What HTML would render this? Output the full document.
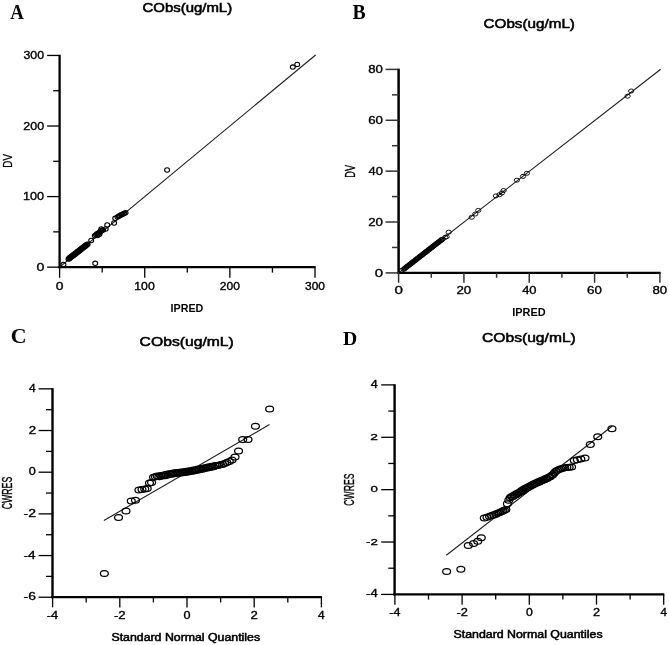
<!DOCTYPE html>
<html><head><meta charset="utf-8"><title>Goodness-of-fit plots</title>
<style>html,body{margin:0;padding:0;background:#fff;}svg{display:block;filter:grayscale(1);}text{fill:#000;}</style></head>
<body><svg width="669" height="645" viewBox="0 0 669 645">
<rect width="669" height="645" fill="#fff"/>
<g stroke-linecap="butt">
<line x1="59.60" y1="54.80" x2="59.60" y2="268.30" stroke="#000" stroke-width="2.3"/>
<line x1="58.45" y1="267.15" x2="315.65" y2="267.15" stroke="#000" stroke-width="2.3"/>
<line x1="47.10" y1="267.15" x2="59.60" y2="267.15" stroke="#000" stroke-width="1.3"/>
<line x1="59.60" y1="267.15" x2="59.60" y2="277.70" stroke="#000" stroke-width="1.3"/>
<line x1="47.10" y1="196.58" x2="59.60" y2="196.58" stroke="#000" stroke-width="1.3"/>
<line x1="144.73" y1="267.15" x2="144.73" y2="277.70" stroke="#000" stroke-width="1.3"/>
<line x1="47.10" y1="126.02" x2="59.60" y2="126.02" stroke="#000" stroke-width="1.3"/>
<line x1="229.87" y1="267.15" x2="229.87" y2="277.70" stroke="#000" stroke-width="1.3"/>
<line x1="47.10" y1="55.45" x2="59.60" y2="55.45" stroke="#000" stroke-width="1.3"/>
<line x1="315.00" y1="267.15" x2="315.00" y2="277.70" stroke="#000" stroke-width="1.3"/>
<line x1="53.20" y1="231.87" x2="59.60" y2="231.87" stroke="#000" stroke-width="1.3"/>
<line x1="102.17" y1="267.15" x2="102.17" y2="272.60" stroke="#000" stroke-width="1.3"/>
<line x1="53.20" y1="161.30" x2="59.60" y2="161.30" stroke="#000" stroke-width="1.3"/>
<line x1="187.30" y1="267.15" x2="187.30" y2="272.60" stroke="#000" stroke-width="1.3"/>
<line x1="53.20" y1="90.73" x2="59.60" y2="90.73" stroke="#000" stroke-width="1.3"/>
<line x1="272.43" y1="267.15" x2="272.43" y2="272.60" stroke="#000" stroke-width="1.3"/>
<line x1="59.60" y1="267.15" x2="315.60" y2="55.00" stroke="#1c1c1c" stroke-width="1.1"/>
<line x1="398.60" y1="68.65" x2="398.60" y2="274.05" stroke="#000" stroke-width="2.5"/>
<line x1="397.35" y1="272.90" x2="660.65" y2="272.90" stroke="#000" stroke-width="2.2"/>
<line x1="385.60" y1="272.90" x2="398.60" y2="272.90" stroke="#333" stroke-width="1.5"/>
<line x1="398.60" y1="272.90" x2="398.60" y2="282.80" stroke="#333" stroke-width="1.5"/>
<line x1="385.60" y1="222.02" x2="398.60" y2="222.02" stroke="#333" stroke-width="1.5"/>
<line x1="463.93" y1="272.90" x2="463.93" y2="282.80" stroke="#333" stroke-width="1.5"/>
<line x1="385.60" y1="171.15" x2="398.60" y2="171.15" stroke="#333" stroke-width="1.5"/>
<line x1="529.25" y1="272.90" x2="529.25" y2="282.80" stroke="#333" stroke-width="1.5"/>
<line x1="385.60" y1="120.27" x2="398.60" y2="120.27" stroke="#333" stroke-width="1.5"/>
<line x1="594.58" y1="272.90" x2="594.58" y2="282.80" stroke="#333" stroke-width="1.5"/>
<line x1="385.60" y1="69.40" x2="398.60" y2="69.40" stroke="#333" stroke-width="1.5"/>
<line x1="659.90" y1="272.90" x2="659.90" y2="282.80" stroke="#333" stroke-width="1.5"/>
<line x1="392.00" y1="247.46" x2="398.60" y2="247.46" stroke="#333" stroke-width="1.5"/>
<line x1="431.26" y1="272.90" x2="431.26" y2="277.80" stroke="#333" stroke-width="1.5"/>
<line x1="392.00" y1="196.59" x2="398.60" y2="196.59" stroke="#333" stroke-width="1.5"/>
<line x1="496.59" y1="272.90" x2="496.59" y2="277.80" stroke="#333" stroke-width="1.5"/>
<line x1="392.00" y1="145.71" x2="398.60" y2="145.71" stroke="#333" stroke-width="1.5"/>
<line x1="561.91" y1="272.90" x2="561.91" y2="277.80" stroke="#333" stroke-width="1.5"/>
<line x1="392.00" y1="94.84" x2="398.60" y2="94.84" stroke="#333" stroke-width="1.5"/>
<line x1="627.24" y1="272.90" x2="627.24" y2="277.80" stroke="#333" stroke-width="1.5"/>
<line x1="398.60" y1="272.90" x2="660.70" y2="69.30" stroke="#1c1c1c" stroke-width="1.1"/>
<line x1="52.50" y1="388.19" x2="52.50" y2="598.25" stroke="#000" stroke-width="2.4"/>
<line x1="51.30" y1="597.10" x2="322.05" y2="597.10" stroke="#000" stroke-width="2.3"/>
<line x1="38.60" y1="597.24" x2="52.50" y2="597.24" stroke="#000" stroke-width="1.3"/>
<line x1="38.60" y1="555.56" x2="52.50" y2="555.56" stroke="#000" stroke-width="1.3"/>
<line x1="38.60" y1="513.88" x2="52.50" y2="513.88" stroke="#000" stroke-width="1.3"/>
<line x1="38.60" y1="472.20" x2="52.50" y2="472.20" stroke="#000" stroke-width="1.3"/>
<line x1="38.60" y1="430.52" x2="52.50" y2="430.52" stroke="#000" stroke-width="1.3"/>
<line x1="38.60" y1="388.84" x2="52.50" y2="388.84" stroke="#000" stroke-width="1.3"/>
<line x1="46.00" y1="576.40" x2="52.50" y2="576.40" stroke="#000" stroke-width="1.3"/>
<line x1="46.00" y1="534.72" x2="52.50" y2="534.72" stroke="#000" stroke-width="1.3"/>
<line x1="46.00" y1="493.04" x2="52.50" y2="493.04" stroke="#000" stroke-width="1.3"/>
<line x1="46.00" y1="451.36" x2="52.50" y2="451.36" stroke="#000" stroke-width="1.3"/>
<line x1="46.00" y1="409.68" x2="52.50" y2="409.68" stroke="#000" stroke-width="1.3"/>
<line x1="52.60" y1="597.10" x2="52.60" y2="607.40" stroke="#000" stroke-width="1.3"/>
<line x1="119.80" y1="597.10" x2="119.80" y2="607.40" stroke="#000" stroke-width="1.3"/>
<line x1="187.00" y1="597.10" x2="187.00" y2="607.40" stroke="#000" stroke-width="1.3"/>
<line x1="254.20" y1="597.10" x2="254.20" y2="607.40" stroke="#000" stroke-width="1.3"/>
<line x1="321.40" y1="597.10" x2="321.40" y2="607.40" stroke="#000" stroke-width="1.3"/>
<line x1="86.20" y1="597.10" x2="86.20" y2="602.40" stroke="#000" stroke-width="1.3"/>
<line x1="153.40" y1="597.10" x2="153.40" y2="602.40" stroke="#000" stroke-width="1.3"/>
<line x1="220.60" y1="597.10" x2="220.60" y2="602.40" stroke="#000" stroke-width="1.3"/>
<line x1="287.80" y1="597.10" x2="287.80" y2="602.40" stroke="#000" stroke-width="1.3"/>
<line x1="103.90" y1="520.50" x2="269.50" y2="424.60" stroke="#1c1c1c" stroke-width="1.1"/>
<line x1="394.60" y1="384.24" x2="394.60" y2="595.55" stroke="#000" stroke-width="2.4"/>
<line x1="393.40" y1="594.40" x2="664.35" y2="594.40" stroke="#000" stroke-width="2.3"/>
<line x1="381.20" y1="594.41" x2="394.60" y2="594.41" stroke="#000" stroke-width="1.3"/>
<line x1="394.90" y1="594.40" x2="394.90" y2="604.70" stroke="#000" stroke-width="1.3"/>
<line x1="381.20" y1="542.03" x2="394.60" y2="542.03" stroke="#000" stroke-width="1.3"/>
<line x1="462.10" y1="594.40" x2="462.10" y2="604.70" stroke="#000" stroke-width="1.3"/>
<line x1="381.20" y1="489.65" x2="394.60" y2="489.65" stroke="#000" stroke-width="1.3"/>
<line x1="529.30" y1="594.40" x2="529.30" y2="604.70" stroke="#000" stroke-width="1.3"/>
<line x1="381.20" y1="437.27" x2="394.60" y2="437.27" stroke="#000" stroke-width="1.3"/>
<line x1="596.50" y1="594.40" x2="596.50" y2="604.70" stroke="#000" stroke-width="1.3"/>
<line x1="381.20" y1="384.89" x2="394.60" y2="384.89" stroke="#000" stroke-width="1.3"/>
<line x1="663.70" y1="594.40" x2="663.70" y2="604.70" stroke="#000" stroke-width="1.3"/>
<line x1="388.30" y1="568.22" x2="394.60" y2="568.22" stroke="#000" stroke-width="1.3"/>
<line x1="428.50" y1="594.40" x2="428.50" y2="599.60" stroke="#000" stroke-width="1.3"/>
<line x1="388.30" y1="515.84" x2="394.60" y2="515.84" stroke="#000" stroke-width="1.3"/>
<line x1="495.70" y1="594.40" x2="495.70" y2="599.60" stroke="#000" stroke-width="1.3"/>
<line x1="388.30" y1="463.46" x2="394.60" y2="463.46" stroke="#000" stroke-width="1.3"/>
<line x1="562.90" y1="594.40" x2="562.90" y2="599.60" stroke="#000" stroke-width="1.3"/>
<line x1="388.30" y1="411.08" x2="394.60" y2="411.08" stroke="#000" stroke-width="1.3"/>
<line x1="630.10" y1="594.40" x2="630.10" y2="599.60" stroke="#000" stroke-width="1.3"/>
<line x1="446.30" y1="555.30" x2="612.00" y2="426.30" stroke="#1c1c1c" stroke-width="1.1"/>
</g>
<g fill="none" stroke="#000">
<ellipse cx="63.40" cy="264.60" rx="2.45" ry="2.2" stroke-width="1.1"/>
<ellipse cx="95.20" cy="263.30" rx="2.45" ry="2.2" stroke-width="1.1"/>
<ellipse cx="91.20" cy="240.50" rx="2.45" ry="2.2" stroke-width="1.1"/>
<ellipse cx="94.80" cy="235.80" rx="2.45" ry="2.2" stroke-width="1.1"/>
<ellipse cx="96.00" cy="234.80" rx="2.45" ry="2.2" stroke-width="1.1"/>
<ellipse cx="97.20" cy="233.80" rx="2.45" ry="2.2" stroke-width="1.1"/>
<ellipse cx="98.50" cy="233.00" rx="2.45" ry="2.2" stroke-width="1.1"/>
<ellipse cx="99.80" cy="232.20" rx="2.45" ry="2.2" stroke-width="1.1"/>
<ellipse cx="100.60" cy="231.20" rx="2.45" ry="2.2" stroke-width="1.1"/>
<ellipse cx="102.00" cy="230.30" rx="2.45" ry="2.2" stroke-width="1.1"/>
<ellipse cx="101.30" cy="229.00" rx="2.45" ry="2.2" stroke-width="1.1"/>
<ellipse cx="103.00" cy="230.00" rx="2.45" ry="2.2" stroke-width="1.1"/>
<ellipse cx="97.50" cy="235.50" rx="2.45" ry="2.2" stroke-width="1.1"/>
<ellipse cx="99.50" cy="234.20" rx="2.45" ry="2.2" stroke-width="1.1"/>
<ellipse cx="105.70" cy="229.00" rx="2.45" ry="2.2" stroke-width="1.1"/>
<ellipse cx="107.20" cy="225.00" rx="2.45" ry="2.2" stroke-width="1.1"/>
<ellipse cx="114.10" cy="223.00" rx="2.45" ry="2.2" stroke-width="1.1"/>
<ellipse cx="115.20" cy="218.30" rx="2.45" ry="2.2" stroke-width="1.1"/>
<ellipse cx="117.50" cy="217.00" rx="2.45" ry="2.2" stroke-width="1.1"/>
<ellipse cx="118.80" cy="216.30" rx="2.45" ry="2.2" stroke-width="1.1"/>
<ellipse cx="120.00" cy="215.60" rx="2.45" ry="2.2" stroke-width="1.1"/>
<ellipse cx="121.30" cy="214.80" rx="2.45" ry="2.2" stroke-width="1.1"/>
<ellipse cx="122.60" cy="214.20" rx="2.45" ry="2.2" stroke-width="1.1"/>
<ellipse cx="124.00" cy="213.60" rx="2.45" ry="2.2" stroke-width="1.1"/>
<ellipse cx="125.50" cy="212.80" rx="2.45" ry="2.2" stroke-width="1.1"/>
<ellipse cx="167.10" cy="170.00" rx="2.45" ry="2.2" stroke-width="1.1"/>
<ellipse cx="292.80" cy="67.10" rx="2.45" ry="2.2" stroke-width="1.1"/>
<ellipse cx="297.20" cy="64.40" rx="2.45" ry="2.2" stroke-width="1.1"/>
<ellipse cx="68.50" cy="259.00" rx="2.45" ry="2.2" stroke-width="1.1"/>
<ellipse cx="69.23" cy="258.76" rx="2.45" ry="2.2" stroke-width="1.1"/>
<ellipse cx="69.44" cy="257.82" rx="2.45" ry="2.2" stroke-width="1.1"/>
<ellipse cx="70.35" cy="257.82" rx="2.45" ry="2.2" stroke-width="1.1"/>
<ellipse cx="70.85" cy="257.27" rx="2.45" ry="2.2" stroke-width="1.1"/>
<ellipse cx="71.19" cy="256.51" rx="2.45" ry="2.2" stroke-width="1.1"/>
<ellipse cx="72.15" cy="256.57" rx="2.45" ry="2.2" stroke-width="1.1"/>
<ellipse cx="72.45" cy="255.75" rx="2.45" ry="2.2" stroke-width="1.1"/>
<ellipse cx="73.01" cy="255.29" rx="2.45" ry="2.2" stroke-width="1.1"/>
<ellipse cx="73.88" cy="255.23" rx="2.45" ry="2.2" stroke-width="1.1"/>
<ellipse cx="74.08" cy="254.28" rx="2.45" ry="2.2" stroke-width="1.1"/>
<ellipse cx="74.87" cy="254.11" rx="2.45" ry="2.2" stroke-width="1.1"/>
<ellipse cx="75.54" cy="253.79" rx="2.45" ry="2.2" stroke-width="1.1"/>
<ellipse cx="75.78" cy="252.89" rx="2.45" ry="2.2" stroke-width="1.1"/>
<ellipse cx="76.71" cy="252.92" rx="2.45" ry="2.2" stroke-width="1.1"/>
<ellipse cx="77.15" cy="252.29" rx="2.45" ry="2.2" stroke-width="1.1"/>
<ellipse cx="77.55" cy="251.61" rx="2.45" ry="2.2" stroke-width="1.1"/>
<ellipse cx="78.49" cy="251.65" rx="2.45" ry="2.2" stroke-width="1.1"/>
<ellipse cx="78.75" cy="250.78" rx="2.45" ry="2.2" stroke-width="1.1"/>
<ellipse cx="79.38" cy="250.40" rx="2.45" ry="2.2" stroke-width="1.1"/>
<ellipse cx="80.20" cy="250.28" rx="2.45" ry="2.2" stroke-width="1.1"/>
<ellipse cx="80.40" cy="249.32" rx="2.45" ry="2.2" stroke-width="1.1"/>
<ellipse cx="81.24" cy="249.23" rx="2.45" ry="2.2" stroke-width="1.1"/>
<ellipse cx="81.84" cy="248.82" rx="2.45" ry="2.2" stroke-width="1.1"/>
<ellipse cx="82.11" cy="247.96" rx="2.45" ry="2.2" stroke-width="1.1"/>
<ellipse cx="83.06" cy="248.02" rx="2.45" ry="2.2" stroke-width="1.1"/>
<ellipse cx="83.45" cy="247.31" rx="2.45" ry="2.2" stroke-width="1.1"/>
<ellipse cx="83.91" cy="246.70" rx="2.45" ry="2.2" stroke-width="1.1"/>
<ellipse cx="84.83" cy="246.72" rx="2.45" ry="2.2" stroke-width="1.1"/>
<ellipse cx="85.06" cy="245.81" rx="2.45" ry="2.2" stroke-width="1.1"/>
<ellipse cx="85.75" cy="245.51" rx="2.45" ry="2.2" stroke-width="1.1"/>
<ellipse cx="86.52" cy="245.33" rx="2.45" ry="2.2" stroke-width="1.1"/>
<ellipse cx="86.72" cy="244.38" rx="2.45" ry="2.2" stroke-width="1.1"/>
<ellipse cx="87.60" cy="244.33" rx="2.45" ry="2.2" stroke-width="1.1"/>
<ellipse cx="403.60" cy="269.31" rx="2.65" ry="2.0" stroke-width="0.9"/>
<ellipse cx="404.47" cy="268.96" rx="2.65" ry="2.0" stroke-width="0.9"/>
<ellipse cx="404.86" cy="268.00" rx="2.65" ry="2.0" stroke-width="0.9"/>
<ellipse cx="405.73" cy="267.66" rx="2.65" ry="2.0" stroke-width="0.9"/>
<ellipse cx="406.59" cy="267.31" rx="2.65" ry="2.0" stroke-width="0.9"/>
<ellipse cx="406.98" cy="266.35" rx="2.65" ry="2.0" stroke-width="0.9"/>
<ellipse cx="407.86" cy="266.01" rx="2.65" ry="2.0" stroke-width="0.9"/>
<ellipse cx="408.72" cy="265.65" rx="2.65" ry="2.0" stroke-width="0.9"/>
<ellipse cx="409.11" cy="264.69" rx="2.65" ry="2.0" stroke-width="0.9"/>
<ellipse cx="409.99" cy="264.36" rx="2.65" ry="2.0" stroke-width="0.9"/>
<ellipse cx="410.84" cy="263.99" rx="2.65" ry="2.0" stroke-width="0.9"/>
<ellipse cx="411.24" cy="263.03" rx="2.65" ry="2.0" stroke-width="0.9"/>
<ellipse cx="412.12" cy="262.71" rx="2.65" ry="2.0" stroke-width="0.9"/>
<ellipse cx="412.97" cy="262.34" rx="2.65" ry="2.0" stroke-width="0.9"/>
<ellipse cx="413.36" cy="261.38" rx="2.65" ry="2.0" stroke-width="0.9"/>
<ellipse cx="414.25" cy="261.06" rx="2.65" ry="2.0" stroke-width="0.9"/>
<ellipse cx="415.10" cy="260.68" rx="2.65" ry="2.0" stroke-width="0.9"/>
<ellipse cx="415.49" cy="259.72" rx="2.65" ry="2.0" stroke-width="0.9"/>
<ellipse cx="416.38" cy="259.41" rx="2.65" ry="2.0" stroke-width="0.9"/>
<ellipse cx="417.22" cy="259.02" rx="2.65" ry="2.0" stroke-width="0.9"/>
<ellipse cx="417.61" cy="258.06" rx="2.65" ry="2.0" stroke-width="0.9"/>
<ellipse cx="418.51" cy="257.76" rx="2.65" ry="2.0" stroke-width="0.9"/>
<ellipse cx="419.35" cy="257.37" rx="2.65" ry="2.0" stroke-width="0.9"/>
<ellipse cx="419.74" cy="256.41" rx="2.65" ry="2.0" stroke-width="0.9"/>
<ellipse cx="420.64" cy="256.11" rx="2.65" ry="2.0" stroke-width="0.9"/>
<ellipse cx="421.47" cy="255.71" rx="2.65" ry="2.0" stroke-width="0.9"/>
<ellipse cx="421.87" cy="254.75" rx="2.65" ry="2.0" stroke-width="0.9"/>
<ellipse cx="422.77" cy="254.46" rx="2.65" ry="2.0" stroke-width="0.9"/>
<ellipse cx="423.60" cy="254.05" rx="2.65" ry="2.0" stroke-width="0.9"/>
<ellipse cx="423.99" cy="253.10" rx="2.65" ry="2.0" stroke-width="0.9"/>
<ellipse cx="424.90" cy="252.81" rx="2.65" ry="2.0" stroke-width="0.9"/>
<ellipse cx="425.72" cy="252.40" rx="2.65" ry="2.0" stroke-width="0.9"/>
<ellipse cx="426.12" cy="251.44" rx="2.65" ry="2.0" stroke-width="0.9"/>
<ellipse cx="427.03" cy="251.15" rx="2.65" ry="2.0" stroke-width="0.9"/>
<ellipse cx="427.85" cy="250.74" rx="2.65" ry="2.0" stroke-width="0.9"/>
<ellipse cx="428.24" cy="249.78" rx="2.65" ry="2.0" stroke-width="0.9"/>
<ellipse cx="429.16" cy="249.50" rx="2.65" ry="2.0" stroke-width="0.9"/>
<ellipse cx="429.97" cy="249.08" rx="2.65" ry="2.0" stroke-width="0.9"/>
<ellipse cx="430.37" cy="248.13" rx="2.65" ry="2.0" stroke-width="0.9"/>
<ellipse cx="431.29" cy="247.85" rx="2.65" ry="2.0" stroke-width="0.9"/>
<ellipse cx="432.10" cy="247.42" rx="2.65" ry="2.0" stroke-width="0.9"/>
<ellipse cx="432.50" cy="246.47" rx="2.65" ry="2.0" stroke-width="0.9"/>
<ellipse cx="433.42" cy="246.20" rx="2.65" ry="2.0" stroke-width="0.9"/>
<ellipse cx="434.22" cy="245.77" rx="2.65" ry="2.0" stroke-width="0.9"/>
<ellipse cx="434.62" cy="244.82" rx="2.65" ry="2.0" stroke-width="0.9"/>
<ellipse cx="435.55" cy="244.55" rx="2.65" ry="2.0" stroke-width="0.9"/>
<ellipse cx="436.35" cy="244.11" rx="2.65" ry="2.0" stroke-width="0.9"/>
<ellipse cx="436.75" cy="243.16" rx="2.65" ry="2.0" stroke-width="0.9"/>
<ellipse cx="437.69" cy="242.90" rx="2.65" ry="2.0" stroke-width="0.9"/>
<ellipse cx="438.47" cy="242.45" rx="2.65" ry="2.0" stroke-width="0.9"/>
<ellipse cx="438.88" cy="241.51" rx="2.65" ry="2.0" stroke-width="0.9"/>
<ellipse cx="439.82" cy="241.25" rx="2.65" ry="2.0" stroke-width="0.9"/>
<ellipse cx="440.60" cy="240.79" rx="2.65" ry="2.0" stroke-width="0.9"/>
<ellipse cx="441.00" cy="239.85" rx="2.65" ry="2.0" stroke-width="0.9"/>
<ellipse cx="441.95" cy="239.60" rx="2.65" ry="2.0" stroke-width="0.9"/>
<ellipse cx="442.72" cy="239.14" rx="2.65" ry="2.0" stroke-width="0.9"/>
<ellipse cx="401.40" cy="270.40" rx="2.65" ry="2.0" stroke-width="0.9"/>
<ellipse cx="445.30" cy="237.30" rx="2.65" ry="2.0" stroke-width="0.9"/>
<ellipse cx="446.60" cy="236.70" rx="2.65" ry="2.0" stroke-width="0.9"/>
<ellipse cx="448.70" cy="232.20" rx="2.65" ry="2.0" stroke-width="0.9"/>
<ellipse cx="471.70" cy="217.30" rx="2.65" ry="2.0" stroke-width="0.9"/>
<ellipse cx="475.30" cy="214.00" rx="2.65" ry="2.0" stroke-width="0.9"/>
<ellipse cx="478.30" cy="210.40" rx="2.65" ry="2.0" stroke-width="0.9"/>
<ellipse cx="495.90" cy="195.90" rx="2.65" ry="2.0" stroke-width="0.9"/>
<ellipse cx="499.50" cy="194.70" rx="2.65" ry="2.0" stroke-width="0.9"/>
<ellipse cx="501.90" cy="192.90" rx="2.65" ry="2.0" stroke-width="0.9"/>
<ellipse cx="503.60" cy="190.50" rx="2.65" ry="2.0" stroke-width="0.9"/>
<ellipse cx="516.90" cy="180.20" rx="2.65" ry="2.0" stroke-width="0.9"/>
<ellipse cx="523.00" cy="176.40" rx="2.65" ry="2.0" stroke-width="0.9"/>
<ellipse cx="526.90" cy="173.30" rx="2.65" ry="2.0" stroke-width="0.9"/>
<ellipse cx="627.60" cy="96.20" rx="2.65" ry="2.0" stroke-width="0.9"/>
<ellipse cx="631.20" cy="91.00" rx="2.65" ry="2.0" stroke-width="0.9"/>
<ellipse cx="104.34" cy="573.40" rx="3.95" ry="2.9" stroke-width="1.25"/>
<ellipse cx="118.56" cy="517.50" rx="3.95" ry="2.9" stroke-width="1.25"/>
<ellipse cx="126.00" cy="511.00" rx="3.95" ry="2.9" stroke-width="1.25"/>
<ellipse cx="131.28" cy="500.90" rx="3.95" ry="2.9" stroke-width="1.25"/>
<ellipse cx="135.45" cy="500.20" rx="3.95" ry="2.9" stroke-width="1.25"/>
<ellipse cx="138.96" cy="490.00" rx="3.95" ry="2.9" stroke-width="1.25"/>
<ellipse cx="142.01" cy="489.50" rx="3.95" ry="2.9" stroke-width="1.25"/>
<ellipse cx="144.73" cy="489.00" rx="3.95" ry="2.9" stroke-width="1.25"/>
<ellipse cx="147.19" cy="488.60" rx="3.95" ry="2.9" stroke-width="1.25"/>
<ellipse cx="149.46" cy="483.00" rx="3.95" ry="2.9" stroke-width="1.25"/>
<ellipse cx="151.57" cy="482.60" rx="3.95" ry="2.9" stroke-width="1.25"/>
<ellipse cx="153.55" cy="477.19" rx="3.95" ry="2.9" stroke-width="1.25"/>
<ellipse cx="155.42" cy="476.83" rx="3.95" ry="2.9" stroke-width="1.25"/>
<ellipse cx="157.19" cy="476.06" rx="3.95" ry="2.9" stroke-width="1.25"/>
<ellipse cx="158.89" cy="476.65" rx="3.95" ry="2.9" stroke-width="1.25"/>
<ellipse cx="160.52" cy="475.47" rx="3.95" ry="2.9" stroke-width="1.25"/>
<ellipse cx="162.08" cy="476.12" rx="3.95" ry="2.9" stroke-width="1.25"/>
<ellipse cx="163.60" cy="474.97" rx="3.95" ry="2.9" stroke-width="1.25"/>
<ellipse cx="165.07" cy="475.63" rx="3.95" ry="2.9" stroke-width="1.25"/>
<ellipse cx="166.49" cy="474.39" rx="3.95" ry="2.9" stroke-width="1.25"/>
<ellipse cx="167.89" cy="474.96" rx="3.95" ry="2.9" stroke-width="1.25"/>
<ellipse cx="169.25" cy="473.73" rx="3.95" ry="2.9" stroke-width="1.25"/>
<ellipse cx="170.58" cy="474.36" rx="3.95" ry="2.9" stroke-width="1.25"/>
<ellipse cx="171.88" cy="473.25" rx="3.95" ry="2.9" stroke-width="1.25"/>
<ellipse cx="173.17" cy="473.94" rx="3.95" ry="2.9" stroke-width="1.25"/>
<ellipse cx="174.43" cy="472.84" rx="3.95" ry="2.9" stroke-width="1.25"/>
<ellipse cx="175.68" cy="473.57" rx="3.95" ry="2.9" stroke-width="1.25"/>
<ellipse cx="176.91" cy="472.52" rx="3.95" ry="2.9" stroke-width="1.25"/>
<ellipse cx="178.12" cy="473.28" rx="3.95" ry="2.9" stroke-width="1.25"/>
<ellipse cx="179.33" cy="472.23" rx="3.95" ry="2.9" stroke-width="1.25"/>
<ellipse cx="180.53" cy="472.99" rx="3.95" ry="2.9" stroke-width="1.25"/>
<ellipse cx="181.71" cy="471.94" rx="3.95" ry="2.9" stroke-width="1.25"/>
<ellipse cx="182.90" cy="472.70" rx="3.95" ry="2.9" stroke-width="1.25"/>
<ellipse cx="184.07" cy="471.66" rx="3.95" ry="2.9" stroke-width="1.25"/>
<ellipse cx="185.24" cy="472.41" rx="3.95" ry="2.9" stroke-width="1.25"/>
<ellipse cx="186.42" cy="471.31" rx="3.95" ry="2.9" stroke-width="1.25"/>
<ellipse cx="187.58" cy="472.01" rx="3.95" ry="2.9" stroke-width="1.25"/>
<ellipse cx="188.76" cy="470.91" rx="3.95" ry="2.9" stroke-width="1.25"/>
<ellipse cx="189.93" cy="471.61" rx="3.95" ry="2.9" stroke-width="1.25"/>
<ellipse cx="191.10" cy="470.51" rx="3.95" ry="2.9" stroke-width="1.25"/>
<ellipse cx="192.29" cy="471.21" rx="3.95" ry="2.9" stroke-width="1.25"/>
<ellipse cx="193.47" cy="470.11" rx="3.95" ry="2.9" stroke-width="1.25"/>
<ellipse cx="194.67" cy="470.81" rx="3.95" ry="2.9" stroke-width="1.25"/>
<ellipse cx="195.88" cy="469.66" rx="3.95" ry="2.9" stroke-width="1.25"/>
<ellipse cx="197.09" cy="470.29" rx="3.95" ry="2.9" stroke-width="1.25"/>
<ellipse cx="198.32" cy="469.12" rx="3.95" ry="2.9" stroke-width="1.25"/>
<ellipse cx="199.57" cy="469.74" rx="3.95" ry="2.9" stroke-width="1.25"/>
<ellipse cx="200.83" cy="468.57" rx="3.95" ry="2.9" stroke-width="1.25"/>
<ellipse cx="202.12" cy="469.18" rx="3.95" ry="2.9" stroke-width="1.25"/>
<ellipse cx="203.42" cy="468.00" rx="3.95" ry="2.9" stroke-width="1.25"/>
<ellipse cx="204.75" cy="468.60" rx="3.95" ry="2.9" stroke-width="1.25"/>
<ellipse cx="206.11" cy="467.42" rx="3.95" ry="2.9" stroke-width="1.25"/>
<ellipse cx="207.51" cy="468.02" rx="3.95" ry="2.9" stroke-width="1.25"/>
<ellipse cx="208.93" cy="466.82" rx="3.95" ry="2.9" stroke-width="1.25"/>
<ellipse cx="210.40" cy="467.42" rx="3.95" ry="2.9" stroke-width="1.25"/>
<ellipse cx="211.92" cy="466.20" rx="3.95" ry="2.9" stroke-width="1.25"/>
<ellipse cx="213.48" cy="466.77" rx="3.95" ry="2.9" stroke-width="1.25"/>
<ellipse cx="215.11" cy="465.53" rx="3.95" ry="2.9" stroke-width="1.25"/>
<ellipse cx="216.81" cy="465.61" rx="3.95" ry="2.9" stroke-width="1.25"/>
<ellipse cx="218.58" cy="465.23" rx="3.95" ry="2.9" stroke-width="1.25"/>
<ellipse cx="220.45" cy="464.83" rx="3.95" ry="2.9" stroke-width="1.25"/>
<ellipse cx="222.43" cy="464.38" rx="3.95" ry="2.9" stroke-width="1.25"/>
<ellipse cx="224.54" cy="463.60" rx="3.95" ry="2.9" stroke-width="1.25"/>
<ellipse cx="226.81" cy="462.60" rx="3.95" ry="2.9" stroke-width="1.25"/>
<ellipse cx="229.27" cy="461.50" rx="3.95" ry="2.9" stroke-width="1.25"/>
<ellipse cx="231.99" cy="460.00" rx="3.95" ry="2.9" stroke-width="1.25"/>
<ellipse cx="235.04" cy="457.10" rx="3.95" ry="2.9" stroke-width="1.25"/>
<ellipse cx="238.55" cy="451.00" rx="3.95" ry="2.9" stroke-width="1.25"/>
<ellipse cx="242.72" cy="439.60" rx="3.95" ry="2.9" stroke-width="1.25"/>
<ellipse cx="248.00" cy="439.40" rx="3.95" ry="2.9" stroke-width="1.25"/>
<ellipse cx="255.44" cy="426.20" rx="3.95" ry="2.9" stroke-width="1.25"/>
<ellipse cx="269.66" cy="409.00" rx="3.95" ry="2.9" stroke-width="1.25"/>
<ellipse cx="446.64" cy="571.60" rx="3.95" ry="2.9" stroke-width="1.25"/>
<ellipse cx="460.86" cy="569.30" rx="3.95" ry="2.9" stroke-width="1.25"/>
<ellipse cx="468.30" cy="545.60" rx="3.95" ry="2.9" stroke-width="1.25"/>
<ellipse cx="473.58" cy="543.50" rx="3.95" ry="2.9" stroke-width="1.25"/>
<ellipse cx="477.75" cy="541.30" rx="3.95" ry="2.9" stroke-width="1.25"/>
<ellipse cx="481.26" cy="537.80" rx="3.95" ry="2.9" stroke-width="1.25"/>
<ellipse cx="484.31" cy="518.10" rx="3.95" ry="2.9" stroke-width="1.25"/>
<ellipse cx="487.03" cy="517.18" rx="3.95" ry="2.9" stroke-width="1.25"/>
<ellipse cx="489.49" cy="516.35" rx="3.95" ry="2.9" stroke-width="1.25"/>
<ellipse cx="491.76" cy="515.59" rx="3.95" ry="2.9" stroke-width="1.25"/>
<ellipse cx="493.87" cy="514.88" rx="3.95" ry="2.9" stroke-width="1.25"/>
<ellipse cx="495.85" cy="514.14" rx="3.95" ry="2.9" stroke-width="1.25"/>
<ellipse cx="497.72" cy="513.34" rx="3.95" ry="2.9" stroke-width="1.25"/>
<ellipse cx="499.49" cy="512.57" rx="3.95" ry="2.9" stroke-width="1.25"/>
<ellipse cx="501.19" cy="511.85" rx="3.95" ry="2.9" stroke-width="1.25"/>
<ellipse cx="502.82" cy="511.06" rx="3.95" ry="2.9" stroke-width="1.25"/>
<ellipse cx="504.38" cy="510.22" rx="3.95" ry="2.9" stroke-width="1.25"/>
<ellipse cx="505.90" cy="509.40" rx="3.95" ry="2.9" stroke-width="1.25"/>
<ellipse cx="507.37" cy="503.73" rx="3.95" ry="2.9" stroke-width="1.25"/>
<ellipse cx="508.79" cy="500.31" rx="3.95" ry="2.9" stroke-width="1.25"/>
<ellipse cx="510.19" cy="497.69" rx="3.95" ry="2.9" stroke-width="1.25"/>
<ellipse cx="511.55" cy="496.60" rx="3.95" ry="2.9" stroke-width="1.25"/>
<ellipse cx="512.88" cy="496.43" rx="3.95" ry="2.9" stroke-width="1.25"/>
<ellipse cx="514.18" cy="495.07" rx="3.95" ry="2.9" stroke-width="1.25"/>
<ellipse cx="515.47" cy="494.93" rx="3.95" ry="2.9" stroke-width="1.25"/>
<ellipse cx="516.73" cy="493.60" rx="3.95" ry="2.9" stroke-width="1.25"/>
<ellipse cx="517.98" cy="493.47" rx="3.95" ry="2.9" stroke-width="1.25"/>
<ellipse cx="519.21" cy="492.16" rx="3.95" ry="2.9" stroke-width="1.25"/>
<ellipse cx="520.42" cy="492.02" rx="3.95" ry="2.9" stroke-width="1.25"/>
<ellipse cx="521.63" cy="490.62" rx="3.95" ry="2.9" stroke-width="1.25"/>
<ellipse cx="522.83" cy="490.43" rx="3.95" ry="2.9" stroke-width="1.25"/>
<ellipse cx="524.01" cy="489.05" rx="3.95" ry="2.9" stroke-width="1.25"/>
<ellipse cx="525.20" cy="488.90" rx="3.95" ry="2.9" stroke-width="1.25"/>
<ellipse cx="526.37" cy="487.71" rx="3.95" ry="2.9" stroke-width="1.25"/>
<ellipse cx="527.54" cy="487.73" rx="3.95" ry="2.9" stroke-width="1.25"/>
<ellipse cx="528.72" cy="486.54" rx="3.95" ry="2.9" stroke-width="1.25"/>
<ellipse cx="529.88" cy="486.56" rx="3.95" ry="2.9" stroke-width="1.25"/>
<ellipse cx="531.06" cy="485.35" rx="3.95" ry="2.9" stroke-width="1.25"/>
<ellipse cx="532.23" cy="485.34" rx="3.95" ry="2.9" stroke-width="1.25"/>
<ellipse cx="533.40" cy="484.13" rx="3.95" ry="2.9" stroke-width="1.25"/>
<ellipse cx="534.59" cy="484.12" rx="3.95" ry="2.9" stroke-width="1.25"/>
<ellipse cx="535.77" cy="482.94" rx="3.95" ry="2.9" stroke-width="1.25"/>
<ellipse cx="536.97" cy="482.99" rx="3.95" ry="2.9" stroke-width="1.25"/>
<ellipse cx="538.18" cy="481.84" rx="3.95" ry="2.9" stroke-width="1.25"/>
<ellipse cx="539.39" cy="481.88" rx="3.95" ry="2.9" stroke-width="1.25"/>
<ellipse cx="540.62" cy="480.75" rx="3.95" ry="2.9" stroke-width="1.25"/>
<ellipse cx="541.87" cy="480.85" rx="3.95" ry="2.9" stroke-width="1.25"/>
<ellipse cx="543.13" cy="479.75" rx="3.95" ry="2.9" stroke-width="1.25"/>
<ellipse cx="544.42" cy="479.83" rx="3.95" ry="2.9" stroke-width="1.25"/>
<ellipse cx="545.72" cy="478.64" rx="3.95" ry="2.9" stroke-width="1.25"/>
<ellipse cx="547.05" cy="478.57" rx="3.95" ry="2.9" stroke-width="1.25"/>
<ellipse cx="548.41" cy="477.29" rx="3.95" ry="2.9" stroke-width="1.25"/>
<ellipse cx="549.81" cy="476.90" rx="3.95" ry="2.9" stroke-width="1.25"/>
<ellipse cx="551.23" cy="475.85" rx="3.95" ry="2.9" stroke-width="1.25"/>
<ellipse cx="552.70" cy="474.73" rx="3.95" ry="2.9" stroke-width="1.25"/>
<ellipse cx="554.22" cy="473.08" rx="3.95" ry="2.9" stroke-width="1.25"/>
<ellipse cx="555.78" cy="471.25" rx="3.95" ry="2.9" stroke-width="1.25"/>
<ellipse cx="557.41" cy="470.29" rx="3.95" ry="2.9" stroke-width="1.25"/>
<ellipse cx="559.11" cy="469.45" rx="3.95" ry="2.9" stroke-width="1.25"/>
<ellipse cx="560.88" cy="468.77" rx="3.95" ry="2.9" stroke-width="1.25"/>
<ellipse cx="562.75" cy="468.30" rx="3.95" ry="2.9" stroke-width="1.25"/>
<ellipse cx="564.73" cy="467.80" rx="3.95" ry="2.9" stroke-width="1.25"/>
<ellipse cx="566.84" cy="467.49" rx="3.95" ry="2.9" stroke-width="1.25"/>
<ellipse cx="569.11" cy="467.20" rx="3.95" ry="2.9" stroke-width="1.25"/>
<ellipse cx="571.57" cy="467.00" rx="3.95" ry="2.9" stroke-width="1.25"/>
<ellipse cx="574.29" cy="460.50" rx="3.95" ry="2.9" stroke-width="1.25"/>
<ellipse cx="577.34" cy="459.80" rx="3.95" ry="2.9" stroke-width="1.25"/>
<ellipse cx="580.85" cy="459.00" rx="3.95" ry="2.9" stroke-width="1.25"/>
<ellipse cx="585.02" cy="458.00" rx="3.95" ry="2.9" stroke-width="1.25"/>
<ellipse cx="590.30" cy="444.50" rx="3.95" ry="2.9" stroke-width="1.25"/>
<ellipse cx="597.74" cy="436.70" rx="3.95" ry="2.9" stroke-width="1.25"/>
<ellipse cx="611.96" cy="428.80" rx="3.95" ry="2.9" stroke-width="1.25"/>
</g>
<g>
<text font-family="Liberation Serif" font-weight="bold" font-size="100" transform="matrix(0.18865,0.00000,0.00000,0.20763,10.31135,19.30382)">A</text>
<text font-family="Liberation Serif" font-weight="bold" font-size="100" transform="matrix(0.19680,0.00000,0.00000,0.20458,352.40480,18.60000)">B</text>
<text font-family="Liberation Serif" font-weight="bold" font-size="100" transform="matrix(0.21849,0.00000,0.00000,0.20896,10.70756,343.09104)">C</text>
<text font-family="Liberation Serif" font-weight="bold" font-size="100" transform="matrix(0.19695,0.00000,0.00000,0.19237,343.00611,344.80000)">D</text>
<text font-family="Liberation Sans" font-size="100" stroke="#000" stroke-width="0.6" vector-effect="non-scaling-stroke" transform="matrix(0.14949,0.00000,0.00000,0.13043,142.50255,12.10000)">CObs(ug/mL)</text>
<text font-family="Liberation Sans" font-size="100" stroke="#000" stroke-width="0.6" vector-effect="non-scaling-stroke" transform="matrix(0.15229,0.00000,0.00000,0.12899,483.53854,27.90000)">CObs(ug/mL)</text>
<text font-family="Liberation Sans" font-size="100" stroke="#000" stroke-width="0.6" vector-effect="non-scaling-stroke" transform="matrix(0.15705,0.00000,0.00000,0.13043,139.61477,345.60000)">CObs(ug/mL)</text>
<text font-family="Liberation Sans" font-size="100" stroke="#000" stroke-width="0.6" vector-effect="non-scaling-stroke" transform="matrix(0.15637,0.00000,0.00000,0.13188,482.01817,342.20000)">CObs(ug/mL)</text>
<text font-family="Liberation Sans" font-weight="bold" font-size="100" transform="matrix(0.10746,0.00000,0.00000,0.10435,170.50153,311.60000)">IPRED</text>
<text font-family="Liberation Sans" font-weight="bold" font-size="100" transform="matrix(0.10949,0.00000,0.00000,0.10435,512.18831,315.50000)">IPRED</text>
<text font-family="Liberation Sans" font-size="100" stroke="#000" stroke-width="0.3" vector-effect="non-scaling-stroke" transform="matrix(0.00000,-0.09808,0.13188,0.00000,12.10000,167.68467)">DV</text>
<text font-family="Liberation Sans" font-size="100" stroke="#000" stroke-width="0.3" vector-effect="non-scaling-stroke" transform="matrix(0.00000,-0.09119,0.14203,0.00000,354.90000,177.62950)">DV</text>
<text font-family="Liberation Sans" font-size="100" stroke="#000" stroke-width="0.3" vector-effect="non-scaling-stroke" transform="matrix(0.00000,-0.08745,0.13944,0.00000,12.06056,509.23724)">CWRES</text>
<text font-family="Liberation Sans" font-size="100" stroke="#000" stroke-width="0.3" vector-effect="non-scaling-stroke" transform="matrix(0.00000,-0.08634,0.13803,0.00000,354.26197,505.63172)">CWRES</text>
<text font-family="Liberation Sans" font-size="100" stroke="#000" stroke-width="0.55" vector-effect="non-scaling-stroke" transform="matrix(0.12337,0.00000,0.00000,0.10145,111.44482,640.80000)">Standard Normal Quantiles</text>
<text font-family="Liberation Sans" font-size="100" stroke="#000" stroke-width="0.55" vector-effect="non-scaling-stroke" transform="matrix(0.12371,0.00000,0.00000,0.10435,453.44332,637.70000)">Standard Normal Quantiles</text>
<text font-family="Liberation Sans" font-size="100" stroke="#000" stroke-width="0.38" vector-effect="non-scaling-stroke" transform="matrix(0.14105,0.00000,0.00000,0.11268,36.38579,271.03732)">0</text>
<text font-family="Liberation Sans" font-size="100" stroke="#000" stroke-width="0.38" vector-effect="non-scaling-stroke" transform="matrix(0.12669,0.00000,0.00000,0.11268,22.99984,200.47066)">100</text>
<text font-family="Liberation Sans" font-size="100" stroke="#000" stroke-width="0.38" vector-effect="non-scaling-stroke" transform="matrix(0.12468,0.00000,0.00000,0.11268,23.32658,129.90399)">200</text>
<text font-family="Liberation Sans" font-size="100" stroke="#000" stroke-width="0.38" vector-effect="non-scaling-stroke" transform="matrix(0.12390,0.00000,0.00000,0.11268,23.45440,59.33732)">300</text>
<text font-family="Liberation Sans" font-size="100" stroke="#000" stroke-width="0.38" vector-effect="non-scaling-stroke" transform="matrix(0.13895,0.00000,0.00000,0.11408,55.74421,289.58592)">0</text>
<text font-family="Liberation Sans" font-size="100" stroke="#000" stroke-width="0.38" vector-effect="non-scaling-stroke" transform="matrix(0.12219,0.00000,0.00000,0.11408,134.31693,289.58592)">100</text>
<text font-family="Liberation Sans" font-size="100" stroke="#000" stroke-width="0.38" vector-effect="non-scaling-stroke" transform="matrix(0.12025,0.00000,0.00000,0.11408,219.76540,289.58592)">200</text>
<text font-family="Liberation Sans" font-size="100" stroke="#000" stroke-width="0.38" vector-effect="non-scaling-stroke" transform="matrix(0.11950,0.00000,0.00000,0.11408,305.02201,289.58592)">300</text>
<text font-family="Liberation Sans" font-size="100" stroke="#000" stroke-width="0.38" vector-effect="non-scaling-stroke" transform="matrix(0.14947,0.00000,0.00000,0.10704,374.70211,276.59296)">0</text>
<text font-family="Liberation Sans" font-size="100" stroke="#000" stroke-width="0.38" vector-effect="non-scaling-stroke" transform="matrix(0.13268,0.00000,0.00000,0.10704,368.13659,225.71796)">20</text>
<text font-family="Liberation Sans" font-size="100" stroke="#000" stroke-width="0.38" vector-effect="non-scaling-stroke" transform="matrix(0.12952,0.00000,0.00000,0.10704,368.47619,174.84296)">40</text>
<text font-family="Liberation Sans" font-size="100" stroke="#000" stroke-width="0.38" vector-effect="non-scaling-stroke" transform="matrix(0.13268,0.00000,0.00000,0.10704,368.13659,123.96796)">60</text>
<text font-family="Liberation Sans" font-size="100" stroke="#000" stroke-width="0.38" vector-effect="non-scaling-stroke" transform="matrix(0.13204,0.00000,0.00000,0.10704,368.20583,73.09296)">80</text>
<text font-family="Liberation Sans" font-size="100" stroke="#000" stroke-width="0.38" vector-effect="non-scaling-stroke" transform="matrix(0.15158,0.00000,0.00000,0.10423,394.39368,294.39577)">0</text>
<text font-family="Liberation Sans" font-size="100" stroke="#000" stroke-width="0.38" vector-effect="non-scaling-stroke" transform="matrix(0.13268,0.00000,0.00000,0.10423,456.46159,294.39577)">20</text>
<text font-family="Liberation Sans" font-size="100" stroke="#000" stroke-width="0.38" vector-effect="non-scaling-stroke" transform="matrix(0.12952,0.00000,0.00000,0.10423,522.12619,294.39577)">40</text>
<text font-family="Liberation Sans" font-size="100" stroke="#000" stroke-width="0.38" vector-effect="non-scaling-stroke" transform="matrix(0.13268,0.00000,0.00000,0.10423,587.11159,294.39577)">60</text>
<text font-family="Liberation Sans" font-size="100" stroke="#000" stroke-width="0.38" vector-effect="non-scaling-stroke" transform="matrix(0.13204,0.00000,0.00000,0.10423,652.50583,294.39577)">80</text>
<text font-family="Liberation Sans" font-size="100" stroke="#000" stroke-width="0.38" vector-effect="non-scaling-stroke" transform="matrix(0.12000,0.00000,0.00000,0.10435,29.00000,391.94000)">4</text>
<text font-family="Liberation Sans" font-size="100" stroke="#000" stroke-width="0.38" vector-effect="non-scaling-stroke" transform="matrix(0.13187,0.00000,0.00000,0.10286,28.64066,433.62000)">2</text>
<text font-family="Liberation Sans" font-size="100" stroke="#000" stroke-width="0.38" vector-effect="non-scaling-stroke" transform="matrix(0.12632,0.00000,0.00000,0.10141,28.79474,475.19859)">0</text>
<text font-family="Liberation Sans" font-size="100" stroke="#000" stroke-width="0.38" vector-effect="non-scaling-stroke" transform="matrix(0.13962,0.00000,0.00000,0.10286,23.57170,516.98000)">-2</text>
<text font-family="Liberation Sans" font-size="100" stroke="#000" stroke-width="0.38" vector-effect="non-scaling-stroke" transform="matrix(0.13620,0.00000,0.00000,0.10435,23.58712,558.66000)">-4</text>
<text font-family="Liberation Sans" font-size="100" stroke="#000" stroke-width="0.38" vector-effect="non-scaling-stroke" transform="matrix(0.13875,0.00000,0.00000,0.10141,23.57562,600.23859)">-6</text>
<text font-family="Liberation Sans" font-size="100" stroke="#000" stroke-width="0.38" vector-effect="non-scaling-stroke" transform="matrix(0.12883,0.00000,0.00000,0.10435,46.77025,619.00000)">-4</text>
<text font-family="Liberation Sans" font-size="100" stroke="#000" stroke-width="0.38" vector-effect="non-scaling-stroke" transform="matrix(0.13208,0.00000,0.00000,0.10286,113.95566,619.00000)">-2</text>
<text font-family="Liberation Sans" font-size="100" stroke="#000" stroke-width="0.38" vector-effect="non-scaling-stroke" transform="matrix(0.12632,0.00000,0.00000,0.10141,183.49474,618.89859)">0</text>
<text font-family="Liberation Sans" font-size="100" stroke="#000" stroke-width="0.38" vector-effect="non-scaling-stroke" transform="matrix(0.13187,0.00000,0.00000,0.10286,250.54066,619.00000)">2</text>
<text font-family="Liberation Sans" font-size="100" stroke="#000" stroke-width="0.38" vector-effect="non-scaling-stroke" transform="matrix(0.12000,0.00000,0.00000,0.10435,318.10000,619.00000)">4</text>
<text font-family="Liberation Sans" font-size="100" stroke="#000" stroke-width="0.38" vector-effect="non-scaling-stroke" transform="matrix(0.12600,0.00000,0.00000,0.10000,370.68500,387.74000)">4</text>
<text font-family="Liberation Sans" font-size="100" stroke="#000" stroke-width="0.38" vector-effect="non-scaling-stroke" transform="matrix(0.13846,0.00000,0.00000,0.09857,370.30769,440.12000)">2</text>
<text font-family="Liberation Sans" font-size="100" stroke="#000" stroke-width="0.38" vector-effect="non-scaling-stroke" transform="matrix(0.13263,0.00000,0.00000,0.09718,370.46947,492.40282)">0</text>
<text font-family="Liberation Sans" font-size="100" stroke="#000" stroke-width="0.38" vector-effect="non-scaling-stroke" transform="matrix(0.13459,0.00000,0.00000,0.09857,365.99434,544.88000)">-2</text>
<text font-family="Liberation Sans" font-size="100" stroke="#000" stroke-width="0.38" vector-effect="non-scaling-stroke" transform="matrix(0.13129,0.00000,0.00000,0.10000,366.00920,597.26000)">-4</text>
<text font-family="Liberation Sans" font-size="100" stroke="#000" stroke-width="0.38" vector-effect="non-scaling-stroke" transform="matrix(0.12515,0.00000,0.00000,0.10580,389.23681,615.80000)">-4</text>
<text font-family="Liberation Sans" font-size="100" stroke="#000" stroke-width="0.38" vector-effect="non-scaling-stroke" transform="matrix(0.12830,0.00000,0.00000,0.10429,456.42264,615.80000)">-2</text>
<text font-family="Liberation Sans" font-size="100" stroke="#000" stroke-width="0.38" vector-effect="non-scaling-stroke" transform="matrix(0.12211,0.00000,0.00000,0.10282,525.91158,615.69718)">0</text>
<text font-family="Liberation Sans" font-size="100" stroke="#000" stroke-width="0.38" vector-effect="non-scaling-stroke" transform="matrix(0.12747,0.00000,0.00000,0.10429,592.96264,615.80000)">2</text>
<text font-family="Liberation Sans" font-size="100" stroke="#000" stroke-width="0.38" vector-effect="non-scaling-stroke" transform="matrix(0.11600,0.00000,0.00000,0.10580,660.51000,615.80000)">4</text>
</g>
</svg></body></html>
